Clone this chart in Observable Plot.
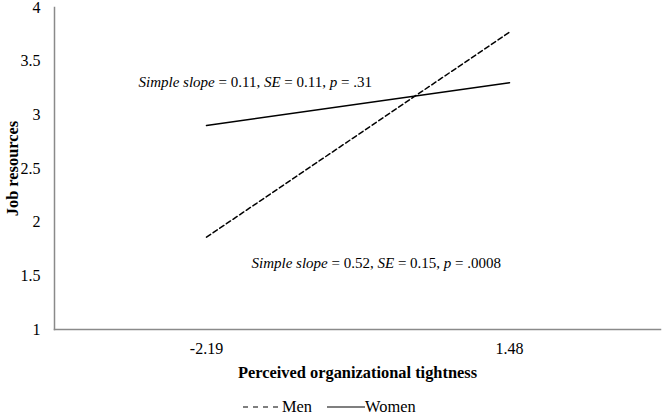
<!DOCTYPE html>
<html>
<head>
<meta charset="utf-8">
<script src="https://cdn.jsdelivr.net/npm/d3@7"></script>
<script src="https://cdn.jsdelivr.net/npm/@observablehq/plot@0.6"></script>
<style>
  html, body { margin: 0; padding: 0; background: #fff; }
  body { position: relative; width: 662px; height: 416px; overflow: hidden; }
  #chart svg { display: block; }
  #legend { position: absolute; left: 243px; top: 397px; height: 19px; line-height: 19px; display: flex; align-items: center;
    font-family: "Liberation Serif", "Times New Roman", serif; font-size: 16.4px; color: #000; }
  #legend .item { display: flex; align-items: center; }
  #legend .item + .item { margin-left: 15px; }
</style>
</head>
<body>
<div id="chart"></div>
<div id="legend"></div>
<script>
const categories = ["-2.19", "1.48"];
const men = [1.86, 3.77];
const women = [2.90, 3.30];
const groups = ["Men", "Women"];
const yTicks = [1, 1.5, 2, 2.5, 3, 3.5, 4];
const xTitle = "Perceived organizational tightness";
const yTitle = "Job resources";
// annotation segments: [text, italic]
const annWomen = [["Simple slope", true], [" = 0.11, ", false], ["SE", true], [" = 0.11, ", false], ["p", true], [" = .31", false]];
const annMen = [["Simple slope", true], [" = 0.52, ", false], ["SE", true], [" = 0.15, ", false], ["p", true], [" = .0008", false]];
const annWomenY = 3.3;
const annMenY = 1.62;

const data = categories.flatMap((c, i) => [
  {x: c, y: men[i], group: "Men"},
  {x: c, y: women[i], group: "Women"}
]);
const join = segs => segs.map(s => s[0]).join("");
const annotations = [
  {x: categories[0], y: annWomenY, text: join(annWomen), segs: annWomen, dx: -68},
  {x: categories[0], y: annMenY, text: join(annMen), segs: annMen, dx: 45}
];

const axisColor = "#8a8a8a";
const plot = Plot.plot({
  width: 662,
  height: 392,
  marginTop: 7,
  marginBottom: 63,
  marginLeft: 54,
  marginRight: 2,
  style: {fontFamily: "'Liberation Serif', 'Times New Roman', serif", fontSize: "15px", color: "#000", background: "#fff", overflow: "visible"},
  x: {type: "point", domain: categories, padding: 0.5},
  y: {domain: [1, 4]},
  marks: [
    Plot.axisY({ticks: yTicks, tickSize: 0, tickPadding: 14, label: null, fontSize: 16, tickFormat: d3.format("")}),
    Plot.axisX({tickSize: 0, tickPadding: 13, label: null, fontSize: 16}),
    Plot.frame({anchor: "left", stroke: axisColor, strokeWidth: 1.5}),
    Plot.frame({anchor: "bottom", stroke: axisColor, strokeWidth: 1.5}),
    Plot.line(data.filter(d => d.group === "Men"), {x: "x", y: "y", stroke: "#000", strokeWidth: 1.5, strokeDasharray: "5,3"}),
    Plot.line(data.filter(d => d.group === "Women"), {x: "x", y: "y", stroke: "#000", strokeWidth: 1.5}),
    ...annotations.map(a => Plot.text([a], {x: "x", y: "y", text: "text", dx: a.dx, textAnchor: "start", fill: "#000"})),
    Plot.text([xTitle], {frameAnchor: "bottom", dy: 43, textAnchor: "middle", lineAnchor: "middle", fontWeight: "bold", fontSize: 16.4, fill: "#000"}),
    Plot.text([yTitle], {frameAnchor: "left", dx: -42, rotate: -90, textAnchor: "middle", lineAnchor: "middle", fontWeight: "bold", fontSize: 16.4, fill: "#000"})
  ]
});
document.getElementById("chart").appendChild(plot);

// italicize segments in annotations
d3.select(plot).selectAll("text").each(function() {
  const el = d3.select(this);
  const a = annotations.find(a => a.text === this.textContent && this.childElementCount === 0);
  if (!a) return;
  el.text(null);
  a.segs.forEach(([t, it]) => {
    el.append("tspan").attr("font-style", it ? "italic" : null).style("white-space", "pre").text(t);
  });
  el.style("white-space", "pre");
});

// legend
const legend = d3.select("#legend");
const styles = {Men: {dash: "5,5", w: 35, gap: 4}, Women: {dash: null, w: 38, gap: 0}};
groups.forEach(g => {
  const item = legend.append("div").attr("class", "item");
  const s = item.append("svg").attr("width", styles[g].w).attr("height", 10).style("margin-right", styles[g].gap + "px");
  s.append("line").attr("x1", 0).attr("x2", styles[g].w).attr("y1", 5).attr("y2", 5)
    .attr("stroke", "#000").attr("stroke-width", 1.2).attr("stroke-dasharray", styles[g].dash);
  item.append("span").text(g);
});
</script>
</body>
</html>
